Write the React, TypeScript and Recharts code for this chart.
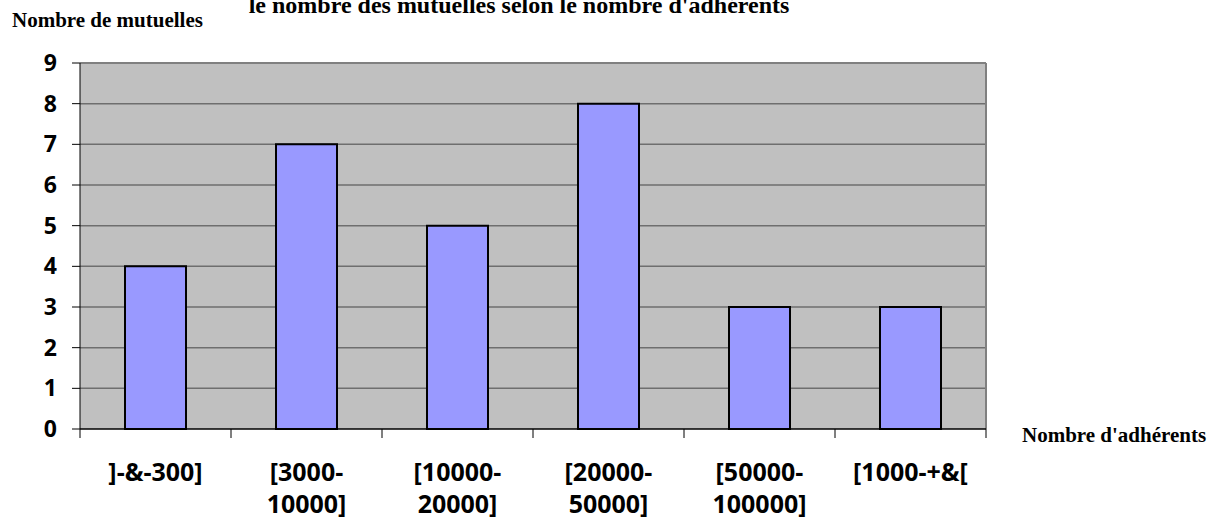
import React from 'react';
import { BarChart, Bar, XAxis, YAxis, CartesianGrid } from 'recharts';

const categories = [
  ']-&-300]',
  '[3000-10000]',
  '[10000-20000]',
  '[20000-50000]',
  '[50000-100000]',
  '[1000-+&[',
];
const mutuelles = [4, 7, 5, 8, 3, 3];
const yTicks = [0, 1, 2, 3, 4, 5, 6, 7, 8, 9];

const data = categories.map((label, i) => ({ label, value: mutuelles[i] }));

const W = 1209;
const H = 519;
const PLOT_LEFT = 80;
const PLOT_TOP = 63;
const PLOT_RIGHT = 986;
const PLOT_BOTTOM = 429;

const tickFont = "'Open Sans', 'DejaVu Sans', sans-serif";
const titleFont = "'Times New Roman', 'Liberation Serif', serif";

// splits "[3000-10000]" after the dash so the range sits on two lines
function splitLabel(s: string): string[] {
  const m = s.match(/^(\[\d+-)(\d+\])$/);
  return m ? [m[1], m[2]] : [s];
}

function CategoryTick(props: any) {
  const { x, y, payload } = props;
  const lines = splitLabel(payload.value);
  return (
    <text
      x={x}
      y={y + 44}
      textAnchor="middle"
      fontFamily={tickFont}
      fontWeight="bold"
      fontSize={25}
      fill="#000"
    >
      {lines.map((l, i) => (
        <tspan key={i} x={x} dy={i === 0 ? 0 : 32}>
          {l}
        </tspan>
      ))}
    </text>
  );
}

export default function App() {
  return (
    <div style={{ position: 'absolute', left: 0, top: 0, width: W, height: H, background: '#fff' }}>
      <BarChart
        width={W}
        height={H}
        data={data}
        margin={{ top: PLOT_TOP, right: W - PLOT_RIGHT, bottom: 0, left: 0 }}
        barCategoryGap="30%"
      >
        <CartesianGrid
          fill="#C0C0C0"
          stroke="#6e6e6e"
          strokeWidth={1.5}
          vertical={false}
          horizontalPoints={[103.7, 144.3, 185, 225.7, 266.3, 307, 347.7, 388.3]}
        />
        <YAxis
          width={PLOT_LEFT}
          domain={[0, 9]}
          ticks={yTicks}
          interval={0}
          axisLine={{ stroke: '#000', strokeWidth: 1 }}
          tickLine={{ stroke: '#000' }}
          tickSize={8}
          tick={{ fill: '#000', fontSize: 23, fontWeight: 'bold', fontFamily: tickFont }}
          tickMargin={15}
        />
        <XAxis
          dataKey="label"
          height={H - PLOT_BOTTOM}
          interval={0}
          axisLine={{ stroke: '#000', strokeWidth: 1.5 }}
          tickLine={false}
          tick={<CategoryTick />}
        />
        <Bar
          dataKey="value"
          fill="#9999FF"
          stroke="#000"
          strokeWidth={2}
          barSize={61}
          isAnimationActive={false}
        />
        {/* plot frame: top and right border, category ticks below the axis */}
        <line x1={PLOT_LEFT} y1={PLOT_TOP} x2={PLOT_RIGHT} y2={PLOT_TOP} stroke="#808080" strokeWidth={2} />
        <line x1={PLOT_RIGHT} y1={PLOT_TOP} x2={PLOT_RIGHT} y2={PLOT_BOTTOM} stroke="#808080" strokeWidth={2} />
        {categories.concat(['']).map((_, i) => {
          const x = PLOT_LEFT + ((PLOT_RIGHT - PLOT_LEFT) / categories.length) * i;
          return <line key={i} x1={x} y1={PLOT_BOTTOM} x2={x} y2={PLOT_BOTTOM + 9} stroke="#000" strokeWidth={1} />;
        })}
        <text x={519} y={13} textAnchor="middle" fontFamily={titleFont} fontWeight="bold" fontSize={24} fill="#000">
          le nombre des mutuelles selon le nombre d'adhérents
        </text>
        <text x={12} y={27} fontFamily={titleFont} fontWeight="bold" fontSize={21} fill="#000">
          Nombre de mutuelles
        </text>
        <text x={1022} y={442} fontFamily={titleFont} fontWeight="bold" fontSize={21} fill="#000">
          Nombre d'adhérents
        </text>
      </BarChart>
    </div>
  );
}
